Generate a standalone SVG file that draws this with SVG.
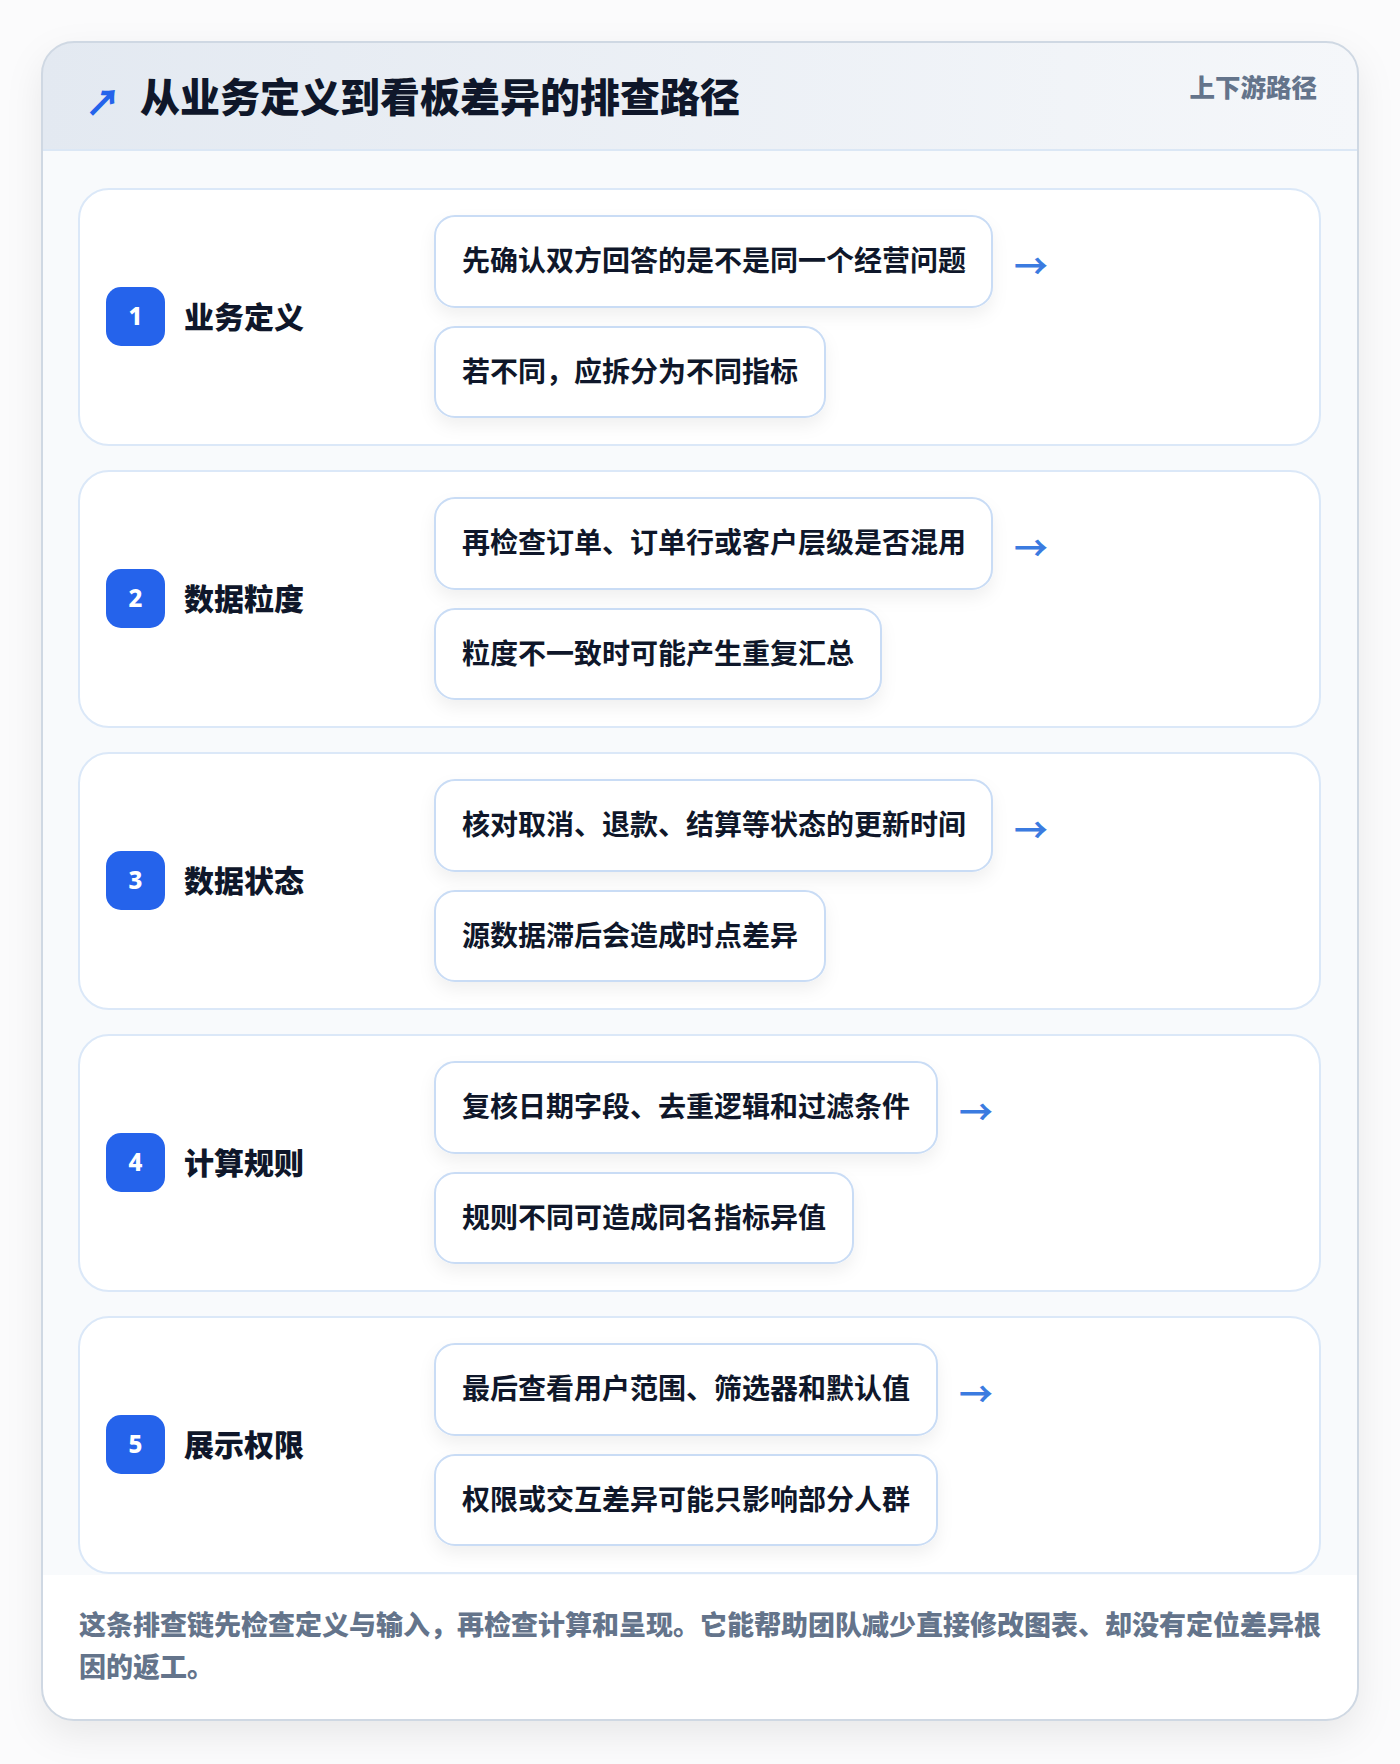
<svg xmlns="http://www.w3.org/2000/svg" width="1400" height="1764" viewBox="0 0 1400 1764">
<defs>
<style>
.t{font-family:"Noto Sans CJK SC","Noto Sans",sans-serif;}
.title{font-size:40px;font-weight:900;fill:#0f172a;}
.tag{font-size:25.5px;font-weight:800;fill:#64748b;}
.row{fill:#ffffff;stroke:#dbe8f8;stroke-width:2;}
.badge{fill:#2563eb;}
.num{font-family:"Noto Sans","DejaVu Sans",sans-serif;font-size:24px;font-weight:800;fill:#ffffff;text-anchor:middle;}
.lab{font-size:30px;font-weight:800;fill:#0f172a;}
.box{fill:#ffffff;stroke:#c9dcf5;stroke-width:2;}
.bt{font-size:28px;font-weight:700;fill:#0f172a;}
.arr{font-family:"Noto Sans CJK SC",sans-serif;font-size:34px;font-weight:700;fill:#3b7be0;}
.foot{font-size:27px;font-weight:800;fill:#64748b;}
</style>
<linearGradient id="hdr" x1="0" y1="0" x2="1" y2="0">
<stop offset="0" stop-color="#e3e9f1"/>
<stop offset="1" stop-color="#f5f7fa"/>
</linearGradient>
<filter id="cardsh" x="-10%" y="-10%" width="120%" height="120%">
<feDropShadow dx="0" dy="14" stdDeviation="18" flood-color="#0f172a" flood-opacity="0.08"/>
</filter>
<filter id="boxsh" x="-10%" y="-30%" width="120%" height="160%">
<feDropShadow dx="0" dy="8" stdDeviation="8" flood-color="#0f172a" flood-opacity="0.06"/>
</filter>
<clipPath id="cardclip"><rect x="42" y="42" width="1316" height="1678" rx="32"/></clipPath>
</defs>
<rect width="1400" height="1764" fill="#fbfbfc"/>
<g id="card">
<rect x="42" y="42" width="1316" height="1678" rx="32" fill="#f8fafc" filter="url(#cardsh)"/>
<g clip-path="url(#cardclip)">
<rect x="42" y="42" width="1316" height="108" fill="url(#hdr)"/>
<line x1="42" y1="150" x2="1358" y2="150" stroke="#dbe7f5" stroke-width="2"/>
<rect x="42" y="1575" width="1316" height="145" fill="#ffffff"/>
</g>
<rect x="42" y="42" width="1316" height="1678" rx="32" fill="none" stroke="#cfd8e3" stroke-width="2"/>
</g>
<g id="header">
<text class="arr" x="85" y="116" style="font-size:36px;font-weight:900;fill:#2563eb">↗</text>
<text class="t title" x="140" y="112">从业务定义到看板差异的排查路径</text>
<text class="t tag" x="1317" y="97" text-anchor="end">上下游路径</text>
</g>
<g id="step1" transform="translate(0,189)">
<rect class="row" x="79" y="0" width="1241" height="256" rx="30"/>
<rect class="badge" x="106" y="98" width="59" height="59" rx="15"/>
<text class="num" x="135.5" y="136">1</text>
<text class="t lab" x="184" y="139">业务定义</text>
<rect class="box" x="435" y="27" width="557" height="91" rx="20" filter="url(#boxsh)"/>
<text class="t bt" x="462" y="82">先确认双方回答的是不是同一个经营问题</text>
<rect class="box" x="435" y="138" width="390" height="90" rx="20" filter="url(#boxsh)"/>
<text class="t bt" x="462" y="193">若不同，应拆分为不同指标</text>
</g>
<g id="step2" transform="translate(0,471)">
<rect class="row" x="79" y="0" width="1241" height="256" rx="30"/>
<rect class="badge" x="106" y="98" width="59" height="59" rx="15"/>
<text class="num" x="135.5" y="136">2</text>
<text class="t lab" x="184" y="139">数据粒度</text>
<rect class="box" x="435" y="27" width="557" height="91" rx="20" filter="url(#boxsh)"/>
<text class="t bt" x="462" y="82">再检查订单、订单行或客户层级是否混用</text>
<rect class="box" x="435" y="138" width="446" height="90" rx="20" filter="url(#boxsh)"/>
<text class="t bt" x="462" y="193">粒度不一致时可能产生重复汇总</text>
</g>
<g id="step3" transform="translate(0,753)">
<rect class="row" x="79" y="0" width="1241" height="256" rx="30"/>
<rect class="badge" x="106" y="98" width="59" height="59" rx="15"/>
<text class="num" x="135.5" y="136">3</text>
<text class="t lab" x="184" y="139">数据状态</text>
<rect class="box" x="435" y="27" width="557" height="91" rx="20" filter="url(#boxsh)"/>
<text class="t bt" x="462" y="82">核对取消、退款、结算等状态的更新时间</text>
<rect class="box" x="435" y="138" width="390" height="90" rx="20" filter="url(#boxsh)"/>
<text class="t bt" x="462" y="193">源数据滞后会造成时点差异</text>
</g>
<g id="step4" transform="translate(0,1035)">
<rect class="row" x="79" y="0" width="1241" height="256" rx="30"/>
<rect class="badge" x="106" y="98" width="59" height="59" rx="15"/>
<text class="num" x="135.5" y="136">4</text>
<text class="t lab" x="184" y="139">计算规则</text>
<rect class="box" x="435" y="27" width="502" height="91" rx="20" filter="url(#boxsh)"/>
<text class="t bt" x="462" y="82">复核日期字段、去重逻辑和过滤条件</text>
<rect class="box" x="435" y="138" width="418" height="90" rx="20" filter="url(#boxsh)"/>
<text class="t bt" x="462" y="193">规则不同可造成同名指标异值</text>
</g>
<g id="step5" transform="translate(0,1317)">
<rect class="row" x="79" y="0" width="1241" height="256" rx="30"/>
<rect class="badge" x="106" y="98" width="59" height="59" rx="15"/>
<text class="num" x="135.5" y="136">5</text>
<text class="t lab" x="184" y="139">展示权限</text>
<rect class="box" x="435" y="27" width="502" height="91" rx="20" filter="url(#boxsh)"/>
<text class="t bt" x="462" y="82">最后查看用户范围、筛选器和默认值</text>
<rect class="box" x="435" y="138" width="502" height="90" rx="20" filter="url(#boxsh)"/>
<text class="t bt" x="462" y="193">权限或交互差异可能只影响部分人群</text>
</g>
<g id="connectors">
<text class="arr" x="1014" y="279">→</text>
<text class="arr" x="1014" y="561">→</text>
<text class="arr" x="1014" y="843">→</text>
<text class="arr" x="959" y="1125">→</text>
<text class="arr" x="959" y="1407">→</text>
</g>
<g id="footer">
<text class="t foot" x="79" y="1635">这条排查链先检查定义与输入，再检查计算和呈现。它能帮助团队减少直接修改图表、却没有定位差异根</text>
<text class="t foot" x="79" y="1677">因的返工。</text>
</g>
</svg>
